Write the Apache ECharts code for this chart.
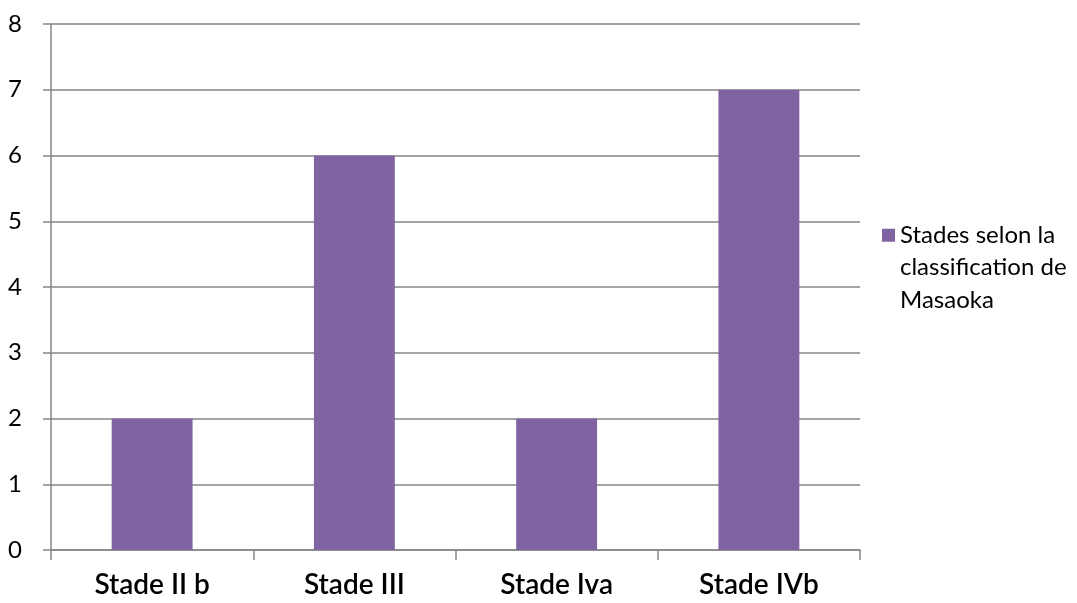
<!DOCTYPE html>
<html>
<head>
<meta charset="utf-8">
<script src="https://cdn.jsdelivr.net/npm/echarts@6/dist/echarts.min.js"></script>
<style>
  html, body { margin: 0; padding: 0; background: #fff; }
  #chart { width: 1077px; height: 603px; }
</style>
</head>
<body>
<div id="chart"></div>
<script>
// Stage counts by Masaoka classification
const categories = ['Stade II b', 'Stade III', 'Stade Iva', 'Stade IVb'];
const seriesName = 'Stades selon la classification de Masaoka';
const legendLines = ['Stades selon la', 'classification de', 'Masaoka'];
const counts = [2, 6, 2, 7];
const yTicks = [0, 1, 2, 3, 4, 5, 6, 7, 8];

const FONT = 'Lato, "Open Sans", sans-serif';
const GRID_COLOR = '#868686';
const BAR_COLOR = '#8064A2';

// legend swatch sits on the first line; following lines are indented to the text
function legendLabel() {
  return legendLines.map(function (line, i) {
    return (i === 0 ? '{sq|}' : '{sp|}') + '{t|' + line + '}';
  }).join('\n');
}

const chart = echarts.init(document.getElementById('chart'));
chart.setOption({
  animation: false,
  backgroundColor: '#ffffff',
  grid: { left: 51, right: 217, top: 24, bottom: 53, containLabel: false },
  legend: {
    orient: 'vertical',
    left: 872,
    top: 214,
    itemWidth: 0,
    itemHeight: 0,
    itemGap: 0,
    icon: 'rect',
    formatter: legendLabel,
    textStyle: {
      fontFamily: FONT,
      fontSize: 24,
      color: '#000',
      lineHeight: 32.5,
      rich: {
        sq: { width: 13, height: 13, backgroundColor: BAR_COLOR, lineHeight: 32.5 },
        sp: { width: 13, height: 13, lineHeight: 32.5 },
        t: { fontFamily: FONT, fontSize: 24, color: '#000', lineHeight: 32.5, padding: [0, 0, 0, 5] }
      }
    }
  },
  xAxis: {
    type: 'category',
    data: categories,
    axisLine: { show: true, lineStyle: { color: GRID_COLOR, width: 1.5 } },
    axisTick: { show: true, length: 10, alignWithLabel: false, lineStyle: { color: GRID_COLOR, width: 1.5 } },
    axisLabel: {
      fontFamily: FONT,
      fontSize: 28,
      fontWeight: 600,
      color: '#000',
      margin: 21
    }
  },
  yAxis: {
    type: 'value',
    min: yTicks[0],
    max: yTicks[yTicks.length - 1],
    interval: 1,
    axisLine: { show: true, lineStyle: { color: GRID_COLOR, width: 1.5 } },
    axisTick: { show: true, length: 8, lineStyle: { color: GRID_COLOR, width: 1.5 } },
    splitLine: { show: true, lineStyle: { color: GRID_COLOR, width: 1.5 } },
    axisLabel: {
      fontFamily: FONT,
      fontSize: 24,
      color: '#000',
      margin: 29
    }
  },
  series: [{
    name: seriesName,
    type: 'bar',
    data: counts,
    barWidth: '40%',
    itemStyle: { color: BAR_COLOR }
  }]
});
</script>
</body>
</html>
